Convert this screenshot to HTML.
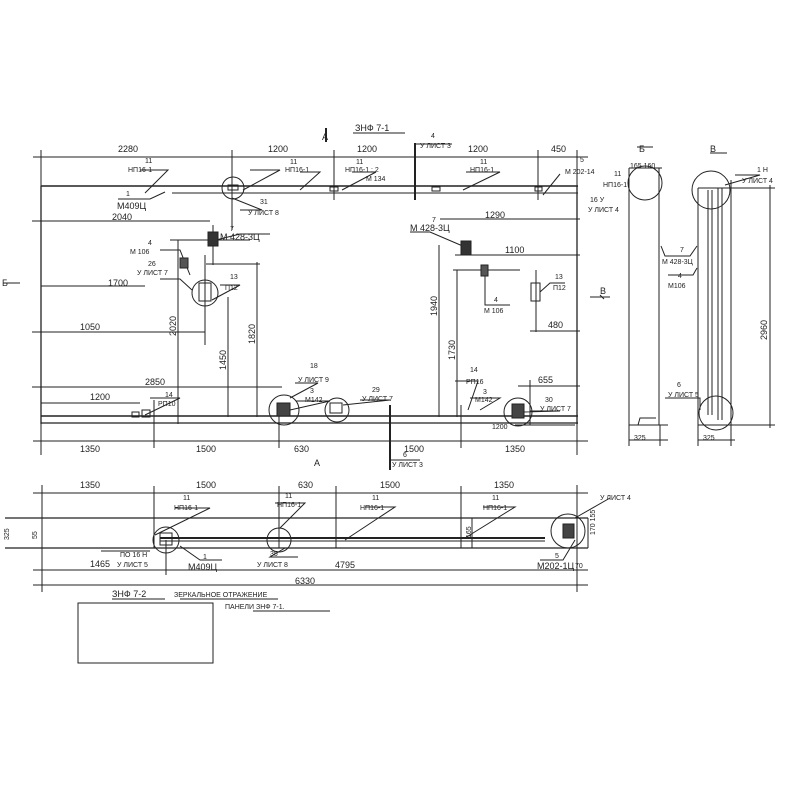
<!DOCTYPE html>
<html><head><meta charset="utf-8"><style>
html,body{margin:0;padding:0;background:#fff;width:800px;height:800px;overflow:hidden}
svg{display:block}
text{font-family:"Liberation Sans Narrow","Liberation Sans",sans-serif;font-size:9px;fill:#222}
.s{font-size:7px}
</style></head><body>
<svg width="800" height="800" viewBox="0 0 800 800" xmlns="http://www.w3.org/2000/svg">
<g stroke="#222" stroke-width="1" fill="none">
<line x1="41" y1="186" x2="578" y2="186" stroke-width="1.4"/>
<line x1="172" y1="193" x2="578" y2="193"/>
<line x1="41" y1="186" x2="41" y2="424" stroke-width="1.3"/>
<line x1="577" y1="186" x2="577" y2="424" stroke-width="1.3"/>
<line x1="41" y1="416" x2="578" y2="416" stroke-width="1.4"/>
<line x1="41" y1="423" x2="578" y2="423" stroke-width="1.2"/>
<line x1="33" y1="157" x2="588" y2="157"/>
<line x1="41" y1="150" x2="41" y2="186"/><line x1="232" y1="150" x2="232" y2="230"/>
<line x1="334" y1="150" x2="334" y2="200"/><line x1="415" y1="143" x2="415" y2="200" stroke-width="2"/>
<line x1="538" y1="150" x2="538" y2="200"/><line x1="577" y1="150" x2="577" y2="186"/>
<polyline points="415,143 415,144 452,144"/>
<line x1="33" y1="441" x2="588" y2="441"/>
<line x1="41" y1="424" x2="41" y2="455"/><line x1="154" y1="400" x2="154" y2="448"/>
<line x1="279" y1="405" x2="279" y2="448"/><line x1="390" y1="405" x2="390" y2="470" stroke-width="2"/>
<line x1="461" y1="405" x2="461" y2="448"/><line x1="577" y1="424" x2="577" y2="455"/>
<polyline points="390,458 390,460 420,460"/>
<line x1="32" y1="221" x2="210" y2="221"/><line x1="440" y1="219" x2="580" y2="219"/>
<line x1="41" y1="286" x2="145" y2="286"/><line x1="32" y1="332" x2="205" y2="332"/>
<line x1="32" y1="387" x2="282" y2="387"/><line x1="41" y1="403" x2="140" y2="403"/>
<line x1="480" y1="255" x2="580" y2="255"/><line x1="530" y1="331" x2="580" y2="331"/>
<line x1="518" y1="386" x2="580" y2="386"/><line x1="170" y1="240" x2="250" y2="240"/>
<line x1="206" y1="264" x2="260" y2="264"/><line x1="455" y1="255" x2="520" y2="255"/>
<line x1="453" y1="270" x2="520" y2="270"/><line x1="515" y1="425" x2="575" y2="425"/>
<line x1="178" y1="240" x2="178" y2="424"/><line x1="257" y1="262" x2="257" y2="417"/>
<line x1="228" y1="297" x2="228" y2="417"/><line x1="439" y1="245" x2="439" y2="417"/>
<line x1="457" y1="270" x2="457" y2="417"/><line x1="205" y1="255" x2="205" y2="345"/>
<line x1="213" y1="225" x2="213" y2="265"/><line x1="536" y1="270" x2="536" y2="332"/>
<line x1="530" y1="380" x2="530" y2="425"/>
<circle cx="233" cy="188" r="11"/><circle cx="205" cy="293" r="13"/>
<circle cx="284" cy="410" r="15"/><circle cx="337" cy="410" r="12"/><circle cx="518" cy="412" r="14"/>
<polyline points="140,170 168,170 145,193"/><polyline points="118,199 150,199 165,192"/>
<polyline points="250,170 280,170 243,190"/><polyline points="240,210 262,210 232,198"/>
<polyline points="300,172 320,172 300,190"/><polyline points="352,172 376,172 342,190"/>
<polyline points="466,172 500,172 463,190"/><polyline points="560,174 543,195"/>
<polyline points="216,240 240,234 270,234"/><polyline points="160,250 180,250 190,275"/>
<polyline points="160,279 180,279 192,290"/><polyline points="220,285 240,285 212,300"/>
<polyline points="295,383 318,383 290,398"/><polyline points="296,401 330,401 290,410"/>
<polyline points="360,400 390,400 343,405"/><polyline points="410,232 430,232 465,247"/>
<polyline points="455,381 478,381 468,410"/><polyline points="470,398 500,398 480,410"/>
<polyline points="530,411 560,411 523,412"/><polyline points="485,275 485,305 510,305"/>
<polyline points="540,292 550,283 565,283"/><polyline points="150,398 180,398 145,415"/>
<rect x="208" y="232" width="10" height="14" fill="#333"/><rect x="180" y="258" width="8" height="10" fill="#555"/>
<rect x="199" y="283" width="12" height="18"/><rect x="461" y="241" width="10" height="14" fill="#333"/>
<rect x="481" y="265" width="7" height="11" fill="#555"/><rect x="531" y="283" width="9" height="18"/>
<rect x="277" y="403" width="13" height="13" fill="#444"/><rect x="512" y="404" width="12" height="14" fill="#444"/>
<rect x="228" y="185" width="10" height="5"/><rect x="330" y="187" width="8" height="4"/>
<rect x="432" y="187" width="8" height="4"/><rect x="535" y="187" width="7" height="4"/>
<rect x="330" y="403" width="12" height="10"/><rect x="132" y="412" width="7" height="5"/><rect x="142" y="410" width="8" height="7"/>
<line x1="3" y1="283" x2="20" y2="283"/><line x1="590" y1="297" x2="610" y2="297"/>
<line x1="600" y1="295" x2="604" y2="299"/>
<line x1="326" y1="128" x2="326" y2="142" stroke-width="2"/>
<line x1="353" y1="133" x2="405" y2="133"/>
<!-- side view Б -->
<line x1="629" y1="168" x2="629" y2="425"/><line x1="659" y1="168" x2="659" y2="425"/>
<line x1="629" y1="168" x2="662" y2="168"/><line x1="629" y1="425" x2="668" y2="425"/>
<polyline points="638,425 640,418 656,418"/><circle cx="645" cy="183" r="17"/>
<line x1="629" y1="440" x2="668" y2="440"/><line x1="629" y1="425" x2="629" y2="446"/><line x1="660" y1="425" x2="660" y2="446"/>
<polyline points="661,246 665,256 690,256 697,246"/>
<polyline points="668,275 693,275 697,268"/>
<line x1="637" y1="147" x2="653" y2="147"/><line x1="710" y1="153" x2="727" y2="153"/>
<!-- side view В -->
<line x1="698" y1="188" x2="698" y2="425"/><line x1="731" y1="180" x2="731" y2="425"/>
<line x1="698" y1="188" x2="731" y2="188"/><line x1="698" y1="425" x2="731" y2="425"/>
<line x1="708" y1="190" x2="708" y2="415"/><line x1="712" y1="190" x2="712" y2="415"/>
<line x1="718" y1="188" x2="718" y2="420"/><line x1="722" y1="188" x2="722" y2="420"/>
<circle cx="711" cy="190" r="19"/><circle cx="716" cy="413" r="17"/>
<line x1="731" y1="188" x2="775" y2="188"/><line x1="731" y1="425" x2="775" y2="425"/>
<line x1="770" y1="185" x2="770" y2="428"/>
<line x1="698" y1="440" x2="735" y2="440"/><line x1="698" y1="425" x2="698" y2="446"/><line x1="731" y1="425" x2="731" y2="446"/>
<polyline points="735,175 760,175 725,185"/><polyline points="665,398 700,398 700,410"/>
<!-- bottom plan -->
<line x1="33" y1="493" x2="588" y2="493"/>
<line x1="5" y1="518" x2="588" y2="518" stroke-width="1.3"/>
<line x1="5" y1="548" x2="588" y2="548" stroke-width="1.3"/>
<line x1="33" y1="570" x2="588" y2="570"/><line x1="33" y1="585" x2="588" y2="585"/>
<line x1="42" y1="485" x2="42" y2="592"/><line x1="577" y1="485" x2="577" y2="592"/>
<line x1="154" y1="486" x2="154" y2="548"/><line x1="279" y1="486" x2="279" y2="548"/>
<line x1="336" y1="486" x2="336" y2="548"/><line x1="461" y1="486" x2="461" y2="548"/>
<line x1="166" y1="540" x2="166" y2="575"/>
<line x1="160" y1="538" x2="545" y2="538" stroke-width="2"/>
<line x1="160" y1="541" x2="545" y2="541"/>
<circle cx="166" cy="540" r="13"/><circle cx="279" cy="540" r="12"/><circle cx="568" cy="531" r="17"/>
<rect x="160" y="533" width="12" height="12"/><rect x="563" y="524" width="11" height="14" fill="#444"/>
<line x1="330" y1="541" x2="342" y2="541"/><line x1="336" y1="534" x2="336" y2="548"/>
<polyline points="175,508 210,508 155,535"/><polyline points="275,503 305,503 280,528"/>
<polyline points="365,507 395,507 345,540"/><polyline points="483,507 515,507 465,538"/>
<polyline points="180,546 200,560 222,560"/><polyline points="285,548 270,557 298,557"/>
<polyline points="540,560 563,560 575,540"/><polyline points="575,518 610,498"/>
<line x1="101" y1="551" x2="150" y2="551"/>
<line x1="472" y1="518" x2="472" y2="548"/><line x1="588" y1="518" x2="588" y2="548"/>
<rect x="78" y="603" width="135" height="60"/>
<line x1="112" y1="599" x2="165" y2="599"/><line x1="180" y1="599" x2="278" y2="599"/>
<line x1="253" y1="611" x2="330" y2="611"/>
</g>
<text x="322" y="140" font-size="11">А</text>
<text x="355" y="131" font-size="10">ЗНФ 7-1</text>
<text x="118" y="152">2280</text><text x="268" y="152">1200</text><text x="357" y="152">1200</text>
<text x="468" y="152">1200</text><text x="551" y="152">450</text>
<text x="431" y="138" class="s">4</text><text x="420" y="148" class="s">У ЛИСТ 3</text>
<text x="145" y="163" class="s">11</text><text x="128" y="172" class="s">НП16-1</text>
<text x="290" y="164" class="s">11</text><text x="285" y="172" class="s">НП16-1</text>
<text x="356" y="164" class="s">11</text><text x="345" y="172" class="s">НП16-1 : 2</text><text x="366" y="181" class="s">М 134</text>
<text x="480" y="164" class="s">11</text><text x="470" y="172" class="s">НП16-1</text>
<text x="580" y="162" class="s">5</text><text x="565" y="174" class="s">М 202-14</text>
<text x="126" y="196" class="s">1</text><text x="117" y="209">М409Ц</text><text x="112" y="220">2040</text>
<text x="260" y="204" class="s">31</text><text x="248" y="215" class="s">У ЛИСТ 8</text>
<text x="485" y="218">1290</text>
<text x="230" y="231" class="s">7</text><text x="220" y="240">М 428-3Ц</text>
<text x="432" y="222" class="s">7</text><text x="410" y="231">М 428-3Ц</text>
<text x="148" y="245" class="s">4</text><text x="130" y="254" class="s">М 106</text>
<text x="148" y="266" class="s">26</text><text x="137" y="275" class="s">У ЛИСТ 7</text>
<text x="230" y="279" class="s">13</text><text x="225" y="290" class="s">П12</text>
<text x="505" y="253">1100</text>
<text x="555" y="279" class="s">13</text><text x="553" y="290" class="s">П12</text>
<text x="494" y="302" class="s">4</text><text x="484" y="313" class="s">М 106</text>
<text x="108" y="286">1700</text><text x="80" y="330">1050</text>
<text x="548" y="328">480</text>
<text x="145" y="385">2850</text><text x="90" y="400">1200</text>
<text x="165" y="397" class="s">14</text><text x="158" y="406" class="s">РП10</text>
<text x="310" y="368" class="s">18</text><text x="298" y="382" class="s">У ЛИСТ 9</text>
<text x="310" y="393" class="s">3</text><text x="305" y="402" class="s">М142</text>
<text x="372" y="392" class="s">29</text><text x="362" y="401" class="s">У ЛИСТ 7</text>
<text x="470" y="372" class="s">14</text><text x="466" y="384" class="s">РП16</text>
<text x="483" y="394" class="s">3</text><text x="475" y="402" class="s">М142</text>
<text x="538" y="383">655</text>
<text x="545" y="402" class="s">30</text><text x="540" y="411" class="s">У ЛИСТ 7</text>
<text x="492" y="429" class="s">1200</text>
<text x="80" y="452">1350</text><text x="196" y="452">1500</text><text x="294" y="452">630</text>
<text x="404" y="452">1500</text><text x="505" y="452">1350</text>
<text x="403" y="457" class="s">6</text><text x="392" y="467" class="s">У ЛИСТ 3</text>
<text x="314" y="466" font-size="11">А</text>
<text x="2" y="286" font-size="10">Б</text><text x="600" y="294" font-size="10">В</text>
<text transform="translate(176,336) rotate(-90)">2020</text>
<text transform="translate(255,344) rotate(-90)">1820</text>
<text transform="translate(226,370) rotate(-90)">1450</text>
<text transform="translate(437,316) rotate(-90)">1940</text>
<text transform="translate(455,360) rotate(-90)">1730</text>
<text x="639" y="152" font-size="11">Б</text><text x="710" y="152" font-size="11">В</text>
<text x="630" y="168" class="s">165 160</text>
<text x="614" y="176" class="s">11</text><text x="603" y="187" class="s">НП16-1</text>
<text x="590" y="202" class="s">16 У</text><text x="588" y="212" class="s">У ЛИСТ 4</text>
<text x="680" y="252" class="s">7</text><text x="662" y="264" class="s">М 428-3Ц</text>
<text x="678" y="278" class="s">4</text><text x="668" y="288" class="s">М106</text>
<text x="757" y="172" class="s">1 Н</text><text x="742" y="183" class="s">У ЛИСТ 4</text>
<text x="677" y="387" class="s">6</text><text x="668" y="397" class="s">У ЛИСТ 5</text>
<text x="634" y="440" class="s">325</text><text x="703" y="440" class="s">325</text>
<text transform="translate(767,340) rotate(-90)">2960</text>
<text x="80" y="488">1350</text><text x="196" y="488">1500</text><text x="298" y="488">630</text>
<text x="380" y="488">1500</text><text x="494" y="488">1350</text>
<text x="183" y="500" class="s">11</text><text x="174" y="510" class="s">НП16-1</text>
<text x="285" y="498" class="s">11</text><text x="277" y="507" class="s">НП16-1</text>
<text x="372" y="500" class="s">11</text><text x="360" y="510" class="s">НП16-1</text>
<text x="492" y="500" class="s">11</text><text x="483" y="510" class="s">НП16-1</text>
<text x="600" y="500" class="s">У ЛИСТ 4</text>
<text x="120" y="557" class="s">ПО 16 Н</text><text x="117" y="567" class="s">У ЛИСТ 5</text>
<text x="90" y="567">1465</text>
<text x="203" y="559" class="s">1</text><text x="188" y="570">М409Ц</text>
<text x="270" y="556" class="s">35</text><text x="257" y="567" class="s">У ЛИСТ 8</text>
<text x="335" y="568">4795</text><text x="295" y="584">6330</text>
<text x="555" y="558" class="s">5</text><text x="537" y="569">М202-1Ц</text><text x="575" y="568" class="s">70</text>
<text transform="translate(37,539) rotate(-90)" class="s">55</text>
<text transform="translate(9,540) rotate(-90)" class="s">325</text>
<text transform="translate(471,538) rotate(-90)" class="s">165</text>
<text transform="translate(595,535) rotate(-90)" class="s">170 155</text>
<text x="112" y="597" font-size="10">ЗНФ 7-2</text>
<text x="174" y="597" class="s">ЗЕРКАЛЬНОЕ ОТРАЖЕНИЕ</text>
<text x="225" y="609" class="s">ПАНЕЛИ  ЗНФ 7-1.</text>
</svg>
</body></html>
